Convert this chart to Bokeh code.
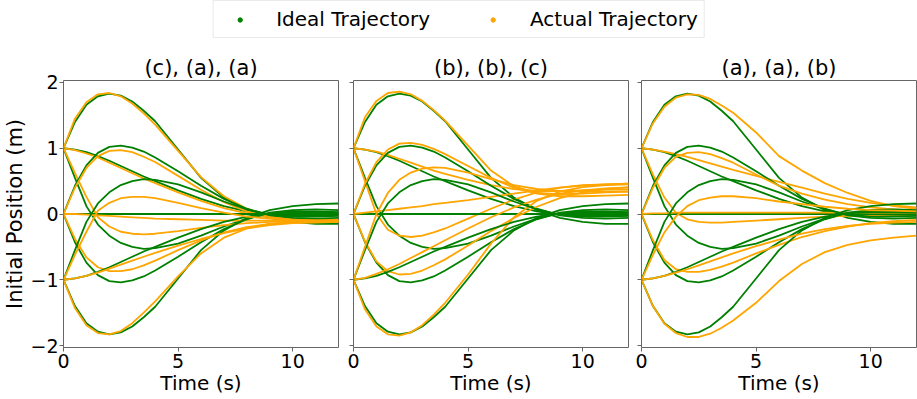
from bokeh.plotting import figure
from bokeh.models import Range1d, Legend, LegendItem, FixedTicker
from bokeh.layouts import column, row
from bokeh.embed import file_html
from bokeh.resources import INLINE

# ---------------- data ----------------
T = [0, 0.5, 1, 1.5, 2, 2.5, 3, 3.5, 4, 5, 6, 7, 8, 9, 10, 11, 12]

# ideal trajectories (same in every panel)
ideal_A = [1.00, 1.40, 1.66, 1.79, 1.83, 1.80, 1.71, 1.57, 1.41, 0.98, 0.55, 0.25, 0.06, -0.06, -0.12, -0.15, -0.15]
ideal_B = [1.00, 0.98, 0.94, 0.88, 0.81, 0.73, 0.65, 0.57, 0.50, 0.36, 0.23, 0.12, 0.04, -0.01, -0.03, -0.03, -0.02]
ideal_C = [1.00, 0.55, 0.12, -0.16, -0.33, -0.44, -0.50, -0.53, -0.52, -0.45, -0.33, -0.19, -0.07, 0.01, 0.04, 0.04, 0.03]
ideal_D = [0.00, 0.43, 0.74, 0.93, 1.02, 1.04, 1.01, 0.95, 0.86, 0.65, 0.43, 0.23, 0.08, -0.02, -0.06, -0.07, -0.06]
ideal_E = [0.00, 0.00, 0.00, 0.00, 0.00, 0.00, 0.00, 0.00, 0.00, 0.00, 0.00, 0.00, 0.00, 0.00, 0.00, 0.00, 0.00]
ideal_F = [0.00, -0.43, -0.74, -0.93, -1.02, -1.04, -1.01, -0.95, -0.86, -0.65, -0.43, -0.23, -0.08, 0.02, 0.06, 0.07, 0.06]
ideal_G = [-1.00, -1.40, -1.66, -1.79, -1.83, -1.80, -1.71, -1.57, -1.41, -0.98, -0.55, -0.25, -0.06, 0.06, 0.12, 0.15, 0.16]
ideal_H = [-1.00, -0.98, -0.94, -0.88, -0.81, -0.73, -0.65, -0.57, -0.50, -0.36, -0.23, -0.12, -0.04, 0.01, 0.03, 0.03, 0.02]
ideal_I = [-1.00, -0.55, -0.12, 0.16, 0.33, 0.44, 0.50, 0.53, 0.52, 0.45, 0.33, 0.19, 0.07, -0.01, -0.04, -0.04, -0.03]

# actual trajectories, panel "(c), (a), (a)"
actual_caa_A = [1.00, 1.45, 1.70, 1.82, 1.84, 1.79, 1.68, 1.53, 1.36, 0.96, 0.56, 0.27, 0.08, -0.03, -0.08, -0.10, -0.11]
actual_caa_B = [1.00, 0.97, 0.92, 0.86, 0.78, 0.70, 0.62, 0.54, 0.47, 0.33, 0.20, 0.09, 0.01, -0.04, -0.07, -0.08, -0.09]
actual_caa_C = [1.00, 0.62, 0.26, -0.05, -0.19, -0.27, -0.30, -0.31, -0.30, -0.26, -0.21, -0.17, -0.14, -0.12, -0.11, -0.10, -0.10]
actual_caa_D = [0.00, 0.40, 0.70, 0.88, 0.96, 0.97, 0.94, 0.87, 0.79, 0.58, 0.37, 0.18, 0.04, -0.05, -0.09, -0.11, -0.11]
actual_caa_E = [0.00, 0.00, -0.01, -0.02, -0.03, -0.04, -0.05, -0.06, -0.07, -0.08, -0.09, -0.10, -0.10, -0.10, -0.10, -0.10, -0.10]
actual_caa_F = [0.00, -0.38, -0.66, -0.81, -0.87, -0.87, -0.84, -0.78, -0.71, -0.55, -0.40, -0.28, -0.20, -0.15, -0.13, -0.12, -0.12]
actual_caa_G = [-1.00, -1.43, -1.69, -1.81, -1.83, -1.78, -1.66, -1.50, -1.33, -0.95, -0.60, -0.36, -0.22, -0.15, -0.12, -0.11, -0.11]
actual_caa_H = [-1.00, -0.98, -0.94, -0.89, -0.83, -0.77, -0.71, -0.65, -0.59, -0.48, -0.38, -0.29, -0.22, -0.17, -0.14, -0.13, -0.12]
actual_caa_I = [-1.00, -0.62, -0.27, 0.05, 0.17, 0.24, 0.26, 0.26, 0.24, 0.17, 0.09, 0.02, -0.04, -0.07, -0.09, -0.10, -0.10]

# actual trajectories, panel "(b), (b), (c)"
actual_bbc_A = [1.00, 1.47, 1.72, 1.84, 1.86, 1.82, 1.72, 1.58, 1.42, 1.04, 0.66, 0.42, 0.32, 0.30, 0.31, 0.33, 0.34]
actual_bbc_B = [1.00, 0.98, 0.95, 0.90, 0.84, 0.78, 0.72, 0.66, 0.61, 0.52, 0.44, 0.38, 0.35, 0.35, 0.36, 0.37, 0.37]
actual_bbc_C = [1.00, 0.50, 0.00, -0.24, -0.33, -0.35, -0.33, -0.28, -0.22, -0.07, 0.08, 0.22, 0.33, 0.40, 0.44, 0.45, 0.46]
actual_bbc_D = [0.00, 0.46, 0.79, 0.98, 1.07, 1.08, 1.05, 0.99, 0.91, 0.73, 0.55, 0.40, 0.31, 0.27, 0.27, 0.28, 0.29]
actual_bbc_E = [0.00, 0.02, 0.04, 0.06, 0.08, 0.10, 0.12, 0.15, 0.17, 0.21, 0.26, 0.31, 0.36, 0.40, 0.43, 0.45, 0.46]
actual_bbc_F = [0.00, -0.42, -0.72, -0.87, -0.92, -0.91, -0.86, -0.78, -0.69, -0.48, -0.26, -0.06, 0.11, 0.24, 0.33, 0.38, 0.41]
actual_bbc_G = [-1.00, -1.45, -1.71, -1.83, -1.85, -1.80, -1.69, -1.53, -1.35, -0.92, -0.45, -0.05, 0.20, 0.34, 0.41, 0.44, 0.45]
actual_bbc_H = [-1.00, -0.97, -0.91, -0.84, -0.76, -0.67, -0.58, -0.49, -0.40, -0.22, -0.05, 0.10, 0.22, 0.31, 0.36, 0.39, 0.40]
actual_bbc_I = [-1.00, -0.50, 0.00, 0.32, 0.52, 0.63, 0.69, 0.71, 0.70, 0.63, 0.53, 0.44, 0.38, 0.35, 0.34, 0.34, 0.34]

# actual trajectories, panel "(a), (a), (b)"
actual_aab_A = [1.00, 1.38, 1.63, 1.77, 1.82, 1.81, 1.75, 1.65, 1.54, 1.24, 0.88, 0.66, 0.47, 0.32, 0.20, 0.12, 0.08]
actual_aab_B = [1.00, 0.98, 0.95, 0.91, 0.87, 0.82, 0.77, 0.72, 0.67, 0.58, 0.49, 0.40, 0.31, 0.23, 0.17, 0.13, 0.10]
actual_aab_C = [1.00, 0.60, 0.25, 0.02, -0.08, -0.12, -0.13, -0.13, -0.12, -0.10, -0.08, -0.06, -0.04, -0.03, -0.02, -0.01, -0.01]
actual_aab_D = [0.00, 0.40, 0.70, 0.87, 0.93, 0.94, 0.91, 0.85, 0.78, 0.60, 0.43, 0.31, 0.22, 0.15, 0.10, 0.07, 0.05]
actual_aab_E = [0.00, 0.01, 0.01, 0.02, 0.02, 0.02, 0.02, 0.02, 0.02, 0.02, 0.02, 0.02, 0.02, 0.02, 0.02, 0.02, 0.02]
actual_aab_F = [0.00, -0.40, -0.70, -0.84, -0.88, -0.88, -0.85, -0.80, -0.74, -0.60, -0.47, -0.35, -0.26, -0.19, -0.14, -0.11, -0.09]
actual_aab_G = [-1.00, -1.40, -1.67, -1.81, -1.87, -1.87, -1.82, -1.73, -1.62, -1.35, -1.02, -0.76, -0.58, -0.47, -0.40, -0.36, -0.33]
actual_aab_H = [-1.00, -0.98, -0.94, -0.89, -0.84, -0.78, -0.72, -0.66, -0.60, -0.49, -0.39, -0.30, -0.23, -0.18, -0.15, -0.13, -0.12]
actual_aab_I = [-1.00, -0.62, -0.28, -0.04, 0.12, 0.21, 0.25, 0.27, 0.27, 0.24, 0.19, 0.15, 0.11, 0.08, 0.06, 0.05, 0.04]

panel_titles = ["(c), (a), (a)", "(b), (b), (c)", "(a), (a), (b)"]
x_ticks = [0, 5, 10]
y_ticks = [-2, -1, 0, 1, 2]
legend_labels = ["Ideal Trajectory", "Actual Trajectory"]

ideal_set = [ideal_A, ideal_B, ideal_C, ideal_D, ideal_E, ideal_F, ideal_G, ideal_H, ideal_I]
actual_sets = [
    [actual_caa_A, actual_caa_B, actual_caa_C, actual_caa_D, actual_caa_E, actual_caa_F, actual_caa_G, actual_caa_H, actual_caa_I],
    [actual_bbc_A, actual_bbc_B, actual_bbc_C, actual_bbc_D, actual_bbc_E, actual_bbc_F, actual_bbc_G, actual_bbc_H, actual_bbc_I],
    [actual_aab_A, actual_aab_B, actual_aab_C, actual_aab_D, actual_aab_E, actual_aab_F, actual_aab_G, actual_aab_H, actual_aab_I],
]

# ---------------- style ----------------
GREEN = "#008000"
ORANGE = "#FFA500"
SPINE = "#666666"
FONT = "DejaVu Sans"
FRAME_W = 275
FRAME_H = 267


def minus(v):
    return ("\u2212" + str(abs(v))) if v < 0 else str(v)


def make_panel(i):
    first = i == 0
    p = figure(
        frame_width=FRAME_W, frame_height=FRAME_H,
        x_range=Range1d(0, 12), y_range=Range1d(-2.03, 2.03),
        output_backend="svg", toolbar_location=None,
        min_border_left=58 if first else 12 if i == 1 else 10,
        min_border_right=1 if i == 2 else 3,
        min_border_top=42, min_border_bottom=0,
    )
    p.title.text = panel_titles[i]
    p.title.align = "center"
    p.title.text_font = FONT
    p.title.text_font_size = "21px"
    p.title.text_font_style = "normal"
    p.title.text_color = "#000000"
    p.title.standoff = 1

    p.grid.visible = False
    p.background_fill_color = "white"
    p.border_fill_color = "white"
    p.outline_line_color = SPINE
    p.outline_line_width = 1

    for ax in (p.xaxis[0], p.yaxis[0]):
        ax.axis_line_color = None
        ax.major_tick_line_color = SPINE
        ax.major_tick_out = 4
        ax.major_tick_in = 0
        ax.minor_tick_line_color = None
        ax.major_label_text_font = FONT
        ax.major_label_text_font_size = "19px"
        ax.major_label_text_color = "#000000"
        ax.major_label_standoff = 2
        ax.axis_label_text_font = FONT
        ax.axis_label_text_font_size = "20px"
        ax.axis_label_text_font_style = "normal"
        ax.axis_label_text_color = "#000000"
        ax.axis_label_standoff = 0

    p.xaxis.ticker = FixedTicker(ticks=x_ticks)
    p.yaxis.ticker = FixedTicker(ticks=y_ticks)
    p.xaxis.axis_label = "Time (s)"
    if first:
        p.yaxis.axis_label = "Initial Position (m)"
        p.yaxis.axis_label_text_font_size = "21px"
        p.yaxis.major_label_overrides = {v: minus(v) for v in y_ticks}
        p.yaxis.major_label_standoff = 1
    else:
        p.yaxis.major_label_overrides = {v: "" for v in y_ticks}
        p.yaxis.major_label_standoff = 0

    for ideal, actual in zip(ideal_set, actual_sets[i]):
        p.line(T, ideal, line_color=GREEN, line_width=1.8)
        p.line(T, actual, line_color=ORANGE, line_width=1.8)
    return p


panels = [make_panel(i) for i in range(3)]

# legend strip (marker renderers sit outside the visible range; only their legend glyphs show)
lf = figure(width=917, height=38, x_axis_type=None, y_axis_type=None,
            x_range=Range1d(0, 1), y_range=Range1d(0, 1),
            output_backend="svg", toolbar_location=None, min_border=0)
lf.outline_line_color = None
lf.grid.visible = False
r_ideal = lf.scatter(x=[5], y=[5], size=5, color=GREEN)
r_actual = lf.scatter(x=[5], y=[5], size=5, color=ORANGE)
leg = Legend(
    items=[LegendItem(label=legend_labels[0], renderers=[r_ideal]),
           LegendItem(label=legend_labels[1], renderers=[r_actual])],
    orientation="horizontal", location="center", margin=0, padding=6,
    spacing=43, glyph_width=40, glyph_height=11, label_height=22,
    label_standoff=17, label_text_font=FONT, label_text_font_size="20px",
    label_text_color="#000000",
    border_line_color="#d6d6d6", border_line_width=1,
    background_fill_color="white", background_fill_alpha=1.0,
)
lf.add_layout(leg, "center")

layout = column(lf, row(*panels, spacing=0), spacing=0)

open("out.html", "w").write(file_html(layout, INLINE))
